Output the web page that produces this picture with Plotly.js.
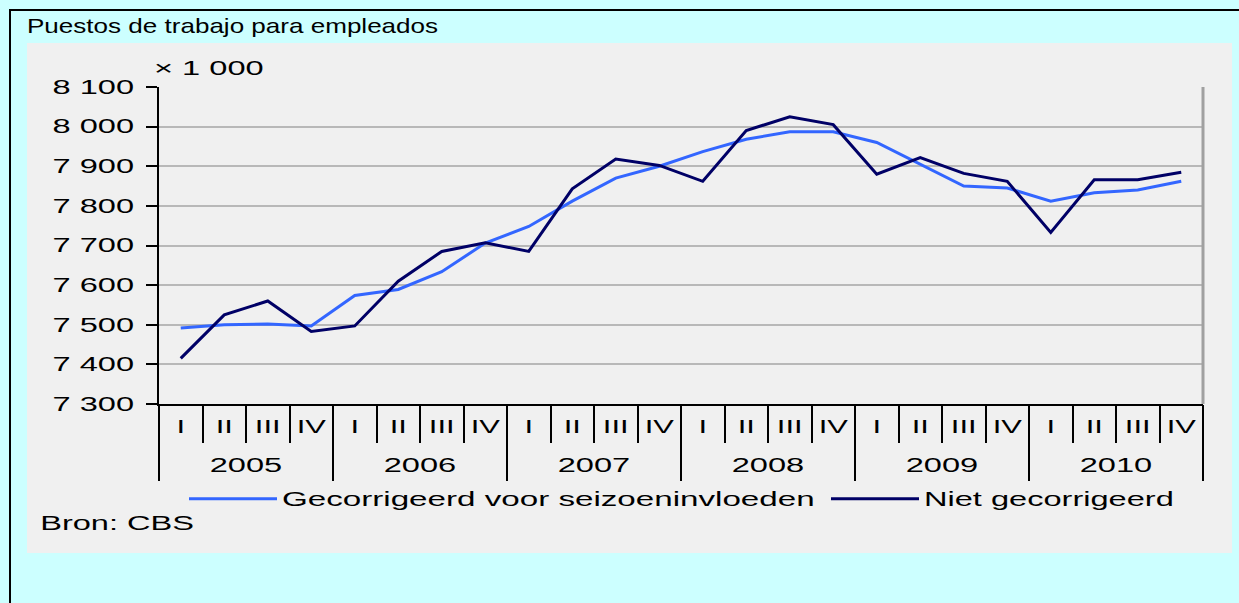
<!DOCTYPE html>
<html>
<head>
<meta charset="utf-8">
<script src="https://cdn.plot.ly/plotly-3.0.1.min.js"></script>
<style>
  html, body { margin: 0; padding: 0; background: #CCFFFF; overflow: hidden; }
  #wrap { position: relative; width: 1239px; height: 603px; overflow: hidden; }
  #chart { width: 1239px; height: 603px; }
  #frame { position: absolute; left: 9px; top: 9px; width: 1300px; height: 700px;
           border-left: 2.5px solid #000; border-top: 2.5px solid #000; pointer-events: none; }
</style>
</head>
<body>
<div id="wrap">
  <div id="chart"></div>
  <div id="frame"></div>
</div>
<script>
// ---- data ----
const years = ['2005', '2006', '2007', '2008', '2009', '2010'];
const quarters = ['I', 'II', 'III', 'IV'];
const gecorrigeerd = [7492, 7500, 7502, 7497, 7574, 7589, 7634, 7706, 7748, 7812, 7870, 7900,
                      7937, 7968, 7987, 7987, 7960, 7905, 7850, 7845, 7812, 7833, 7840, 7862];
const nietGecorrigeerd = [7415, 7525, 7560, 7483, 7497, 7610, 7685, 7707, 7685, 7843, 7918, 7902,
                          7862, 7990, 8025, 8005, 7880, 7922, 7882, 7862, 7733, 7866, 7866, 7885];
const seriesNames = ['Gecorrigeerd voor seizoeninvloeden', 'Niet gecorrigeerd'];
const titleText = 'Puestos de trabajo para empleados';
const unitText = '\u00d7 1 000';
const sourceText = 'Bron: CBS';

// ---- derived category positions ----
const idx = [];
const qLabels = [];
years.forEach((y, yi) => quarters.forEach((q, qi) => { idx.push(yi * quarters.length + qi); qLabels.push(q); }));
const qBounds = idx.map(i => i - 0.5).concat([idx.length - 0.5]);
const yearCenters = years.map((y, yi) => yi * quarters.length + (quarters.length - 1) / 2);
const yearBounds = years.map((y, yi) => yi * quarters.length - 0.5).concat([years.length * quarters.length - 0.5]);

// ---- geometry helpers (pixels -> paper) ----
const W = 1239, H = 603, L = 159, R = 1203, T = 87, B = 404;
const px = x => (x - L) / (R - L);
const py = y => (B - y) / (B - T);

const FONT = 'Liberation Sans, Arial, sans-serif';
const FS = 19.5;

const data = [
  { x: idx, y: gecorrigeerd, name: seriesNames[0], type: 'scatter', mode: 'lines',
    line: { color: '#3366FF', width: 3 }, xaxis: 'x', yaxis: 'y', legend: 'legend' },
  { x: idx, y: nietGecorrigeerd, name: seriesNames[1], type: 'scatter', mode: 'lines',
    line: { color: '#000066', width: 3 }, xaxis: 'x', yaxis: 'y', legend: 'legend2' },
  // empty helper traces so the overlay axes (dividers, year labels) are drawn
  { x: [], y: [], type: 'scatter', mode: 'lines', xaxis: 'x2', yaxis: 'y', showlegend: false, hoverinfo: 'skip' },
  { x: [], y: [], type: 'scatter', mode: 'lines', xaxis: 'x3', yaxis: 'y', showlegend: false, hoverinfo: 'skip' },
  { x: [], y: [], type: 'scatter', mode: 'lines', xaxis: 'x4', yaxis: 'y', showlegend: false, hoverinfo: 'skip' }
];

const xr = [-0.5, idx.length - 0.5];
const legendBase = { orientation: 'h', xanchor: 'left', y: py(499), yanchor: 'middle',
  bgcolor: 'rgba(0,0,0,0)', borderwidth: 0, itemwidth: 88,
  font: { family: FONT, size: FS, color: '#000' } };

const layout = {
  width: W, height: H,
  margin: { l: L, r: W - R, t: T, b: H - B, pad: 0 },
  paper_bgcolor: '#CCFFFF',
  plot_bgcolor: '#F0F0F0',
  separators: ', ',
  font: { family: FONT, size: FS, color: '#000' },
  title: { text: titleText, xref: 'container', yref: 'container', x: 27 / W, xanchor: 'left',
           y: 1 - 26 / H, yanchor: 'middle', font: { family: FONT, size: 21, color: '#000' } },
  showlegend: true,
  legend: Object.assign({}, legendBase, { x: px(184), entrywidth: 545 }),
  legend2: Object.assign({}, legendBase, { x: px(826), entrywidth: 262 }),
  xaxis: { range: xr, tickmode: 'array', tickvals: idx, ticktext: qLabels, ticks: '',
           showgrid: false, zeroline: false, showline: true, linecolor: '#000', linewidth: 2,
           ticklabelstandoff: 5, tickfont: { family: FONT, size: 18.5, color: '#000' } },
  xaxis2: { overlaying: 'x', anchor: 'y', side: 'bottom', range: xr, tickmode: 'array', tickvals: qBounds,
            ticks: 'outside', ticklen: 38, tickwidth: 2, tickcolor: '#000', showticklabels: false,
            showgrid: false, zeroline: false, showline: false },
  xaxis3: { overlaying: 'x', anchor: 'y', side: 'bottom', range: xr, tickmode: 'array', tickvals: yearBounds,
            ticks: 'outside', ticklen: 76, tickwidth: 2, tickcolor: '#000', showticklabels: false,
            showgrid: false, zeroline: false, showline: false },
  xaxis4: { overlaying: 'x', anchor: 'y', side: 'bottom', range: xr, tickmode: 'array', tickvals: yearCenters,
            ticktext: years, ticks: '', showgrid: false, zeroline: false, showline: false,
            ticklabelstandoff: 47, tickfont: { family: FONT, size: FS, color: '#000' } },
  yaxis: { range: [7300, 8100], dtick: 100, tick0: 7300, tickformat: ',d', ticks: 'outside', ticklen: 11,
           tickwidth: 2, tickcolor: '#000', showline: true, linecolor: '#000', linewidth: 2,
           showgrid: true, gridcolor: '#B8B8B8', gridwidth: 2, zeroline: false,
           ticklabelstandoff: 8, tickfont: { family: FONT, size: FS, color: '#000' } },
  shapes: [
    { type: 'rect', xref: 'paper', yref: 'paper', x0: px(27), x1: px(1232), y0: py(553), y1: py(43),
      fillcolor: '#F0F0F0', line: { width: 0 }, layer: 'below' },
    { type: 'line', xref: 'paper', yref: 'paper', x0: 1, x1: 1, y0: 0, y1: 1,
      line: { color: '#A0A0A0', width: 3 } }
  ],
  annotations: [
    { text: unitText, xref: 'paper', yref: 'paper', x: px(209), y: py(68), xanchor: 'center', yanchor: 'middle',
      showarrow: false, font: { family: FONT, size: FS, color: '#000' } },
    { text: sourceText, xref: 'paper', yref: 'paper', x: px(116.5), y: py(523), xanchor: 'center', yanchor: 'middle',
      showarrow: false, font: { family: FONT, size: FS, color: '#000' } }
  ]
};

// the reference lettering is horizontally widened; widen the real SVG text the same way
function stretchTexts(gd) {
  gd.querySelectorAll('svg text').forEach(t => {
    let f = 1.67;
    if (t.classList.contains('gtitle')) f = 1.24;
    else if (t.classList.contains('legendtext')) f = 1.70;
    const w = t.getComputedTextLength();
    if (w > 0) {
      t.setAttribute('textLength', (w * f).toFixed(1));
      t.setAttribute('lengthAdjust', 'spacingAndGlyphs');
    }
  });
}

Plotly.newPlot('chart', data, layout, { staticPlot: true, displayModeBar: false })
  .then(gd => stretchTexts(gd));
</script>
</body>
</html>
